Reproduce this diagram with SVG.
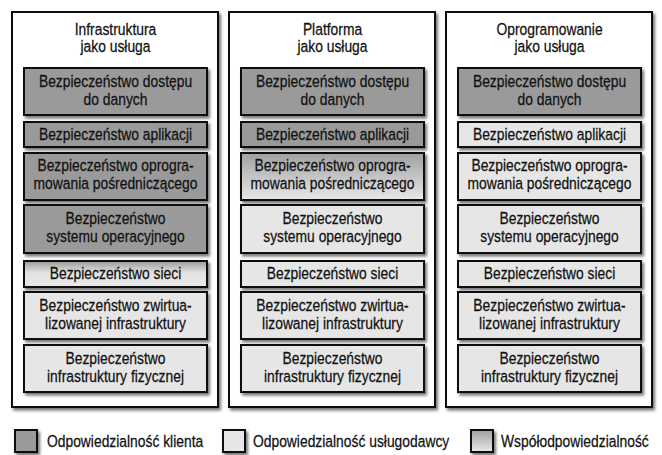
<svg xmlns="http://www.w3.org/2000/svg" width="662" height="455" viewBox="0 0 662 455">
<defs>
<filter id="sh" x="-10%" y="-10%" width="130%" height="130%">
<feDropShadow dx="2" dy="2.5" stdDeviation="1.5" flood-color="#000" flood-opacity="0.55"/>
</filter>
<linearGradient id="g1" x1="0" y1="0" x2="0" y2="1">
<stop offset="0" stop-color="#9a9a9a"/>
<stop offset="0.45" stop-color="#e2e2e2"/>
<stop offset="1" stop-color="#e8e8e8"/>
</linearGradient>
<linearGradient id="g2" x1="0" y1="0" x2="0" y2="1">
<stop offset="0" stop-color="#a0a0a0"/>
<stop offset="1" stop-color="#e8e8e8"/>
</linearGradient>
</defs>
<style>
.col{fill:#fff;stroke:#111;stroke-width:2;filter:url(#sh)}
.b{stroke:#111;stroke-width:2;filter:url(#sh)}
.d{fill:#9a9a9a}
.l{fill:#e6e6e6}
.s1{fill:url(#g1)}
.s2{fill:url(#g2)}
text{font-family:"Liberation Sans",Arial,sans-serif;font-size:16.5px;fill:#111;stroke:#111;stroke-width:0.25;text-anchor:middle}
.lg{text-anchor:start}
</style>
<rect width="662" height="455" fill="#fff"/>
<g id="connectors"></g>

<g id="iaas" transform="translate(12,0)">
<rect class="col" x="0" y="12" width="206" height="395"/>
<g transform="translate(103.5,0) scale(0.84,1)"><text x="0" y="35">Infrastruktura</text><text x="0" y="52">jako usługa</text></g>
<g id="iaas-dane"><rect class="b d" x="12" y="68" width="183" height="47"/><g transform="translate(103.5,0) scale(0.84,1)"><text x="0" y="87">Bezpieczeństwo dostępu</text><text x="0" y="105">do danych</text></g></g>
<g id="iaas-apl"><rect class="b d" x="12" y="122" width="183" height="25"/><g transform="translate(103.5,0) scale(0.84,1)"><text x="0" y="140">Bezpieczeństwo aplikacji</text></g></g>
<g id="iaas-mw"><rect class="b d" x="12" y="153" width="183" height="47"/><g transform="translate(103.5,0) scale(0.84,1)"><text x="0" y="171.5">Bezpieczeństwo oprogra-</text><text x="0" y="189.5">mowania pośredniczącego</text></g></g>
<g id="iaas-os"><rect class="b d" x="12" y="205" width="183" height="48"/><g transform="translate(103.5,0) scale(0.84,1)"><text x="0" y="224">Bezpieczeństwo</text><text x="0" y="242">systemu operacyjnego</text></g></g>
<g id="iaas-net"><rect class="b s1" x="12" y="261" width="183" height="26"/><g transform="translate(103.5,0) scale(0.84,1)"><text x="0" y="279.5">Bezpieczeństwo sieci</text></g></g>
<g id="iaas-virt"><rect class="b l" x="12" y="292" width="183" height="47"/><g transform="translate(103.5,0) scale(0.84,1)"><text x="0" y="311">Bezpieczeństwo zwirtua-</text><text x="0" y="329">lizowanej infrastruktury</text></g></g>
<g id="iaas-fiz"><rect class="b l" x="12" y="345" width="183" height="47"/><g transform="translate(103.5,0) scale(0.84,1)"><text x="0" y="364">Bezpieczeństwo</text><text x="0" y="382">infrastruktury fizycznej</text></g></g>
</g>

<g id="paas" transform="translate(229,0)">
<rect class="col" x="0" y="12" width="206" height="395"/>
<g transform="translate(103.5,0) scale(0.84,1)"><text x="0" y="35">Platforma</text><text x="0" y="52">jako usługa</text></g>
<g id="paas-dane"><rect class="b d" x="12" y="68" width="183" height="47"/><g transform="translate(103.5,0) scale(0.84,1)"><text x="0" y="87">Bezpieczeństwo dostępu</text><text x="0" y="105">do danych</text></g></g>
<g id="paas-apl"><rect class="b d" x="12" y="122" width="183" height="25"/><g transform="translate(103.5,0) scale(0.84,1)"><text x="0" y="140">Bezpieczeństwo aplikacji</text></g></g>
<g id="paas-mw"><rect class="b s2" x="12" y="153" width="183" height="47"/><g transform="translate(103.5,0) scale(0.84,1)"><text x="0" y="171.5">Bezpieczeństwo oprogra-</text><text x="0" y="189.5">mowania pośredniczącego</text></g></g>
<g id="paas-os"><rect class="b l" x="12" y="205" width="183" height="48"/><g transform="translate(103.5,0) scale(0.84,1)"><text x="0" y="224">Bezpieczeństwo</text><text x="0" y="242">systemu operacyjnego</text></g></g>
<g id="paas-net"><rect class="b l" x="12" y="261" width="183" height="26"/><g transform="translate(103.5,0) scale(0.84,1)"><text x="0" y="279.5">Bezpieczeństwo sieci</text></g></g>
<g id="paas-virt"><rect class="b l" x="12" y="292" width="183" height="47"/><g transform="translate(103.5,0) scale(0.84,1)"><text x="0" y="311">Bezpieczeństwo zwirtua-</text><text x="0" y="329">lizowanej infrastruktury</text></g></g>
<g id="paas-fiz"><rect class="b l" x="12" y="345" width="183" height="47"/><g transform="translate(103.5,0) scale(0.84,1)"><text x="0" y="364">Bezpieczeństwo</text><text x="0" y="382">infrastruktury fizycznej</text></g></g>
</g>

<g id="saas" transform="translate(446,0)">
<rect class="col" x="0" y="12" width="206" height="395"/>
<g transform="translate(103.5,0) scale(0.84,1)"><text x="0" y="35">Oprogramowanie</text><text x="0" y="52">jako usługa</text></g>
<g id="saas-dane"><rect class="b d" x="12" y="68" width="183" height="47"/><g transform="translate(103.5,0) scale(0.84,1)"><text x="0" y="87">Bezpieczeństwo dostępu</text><text x="0" y="105">do danych</text></g></g>
<g id="saas-apl"><rect class="b l" x="12" y="122" width="183" height="25"/><g transform="translate(103.5,0) scale(0.84,1)"><text x="0" y="140">Bezpieczeństwo aplikacji</text></g></g>
<g id="saas-mw"><rect class="b l" x="12" y="153" width="183" height="47"/><g transform="translate(103.5,0) scale(0.84,1)"><text x="0" y="171.5">Bezpieczeństwo oprogra-</text><text x="0" y="189.5">mowania pośredniczącego</text></g></g>
<g id="saas-os"><rect class="b l" x="12" y="205" width="183" height="48"/><g transform="translate(103.5,0) scale(0.84,1)"><text x="0" y="224">Bezpieczeństwo</text><text x="0" y="242">systemu operacyjnego</text></g></g>
<g id="saas-net"><rect class="b l" x="12" y="261" width="183" height="26"/><g transform="translate(103.5,0) scale(0.84,1)"><text x="0" y="279.5">Bezpieczeństwo sieci</text></g></g>
<g id="saas-virt"><rect class="b l" x="12" y="292" width="183" height="47"/><g transform="translate(103.5,0) scale(0.84,1)"><text x="0" y="311">Bezpieczeństwo zwirtua-</text><text x="0" y="329">lizowanej infrastruktury</text></g></g>
<g id="saas-fiz"><rect class="b l" x="12" y="345" width="183" height="47"/><g transform="translate(103.5,0) scale(0.84,1)"><text x="0" y="364">Bezpieczeństwo</text><text x="0" y="382">infrastruktury fizycznej</text></g></g>
</g>

<g id="legend">
<g id="lg-klient"><rect class="b d" x="15" y="430" width="22" height="22"/><g transform="translate(47,0) scale(0.84,1)"><text class="lg" x="0" y="447">Odpowiedzialność klienta</text></g></g>
<g id="lg-uslugodawca"><rect class="b l" x="223" y="430" width="22" height="22"/><g transform="translate(253,0) scale(0.84,1)"><text class="lg" x="0" y="447">Odpowiedzialność usługodawcy</text></g></g>
<g id="lg-wspol"><rect class="b s2" x="471" y="430" width="22" height="22"/><g transform="translate(501,0) scale(0.84,1)"><text class="lg" x="0" y="447">Współodpowiedzialność</text></g></g>
</g>
</svg>
